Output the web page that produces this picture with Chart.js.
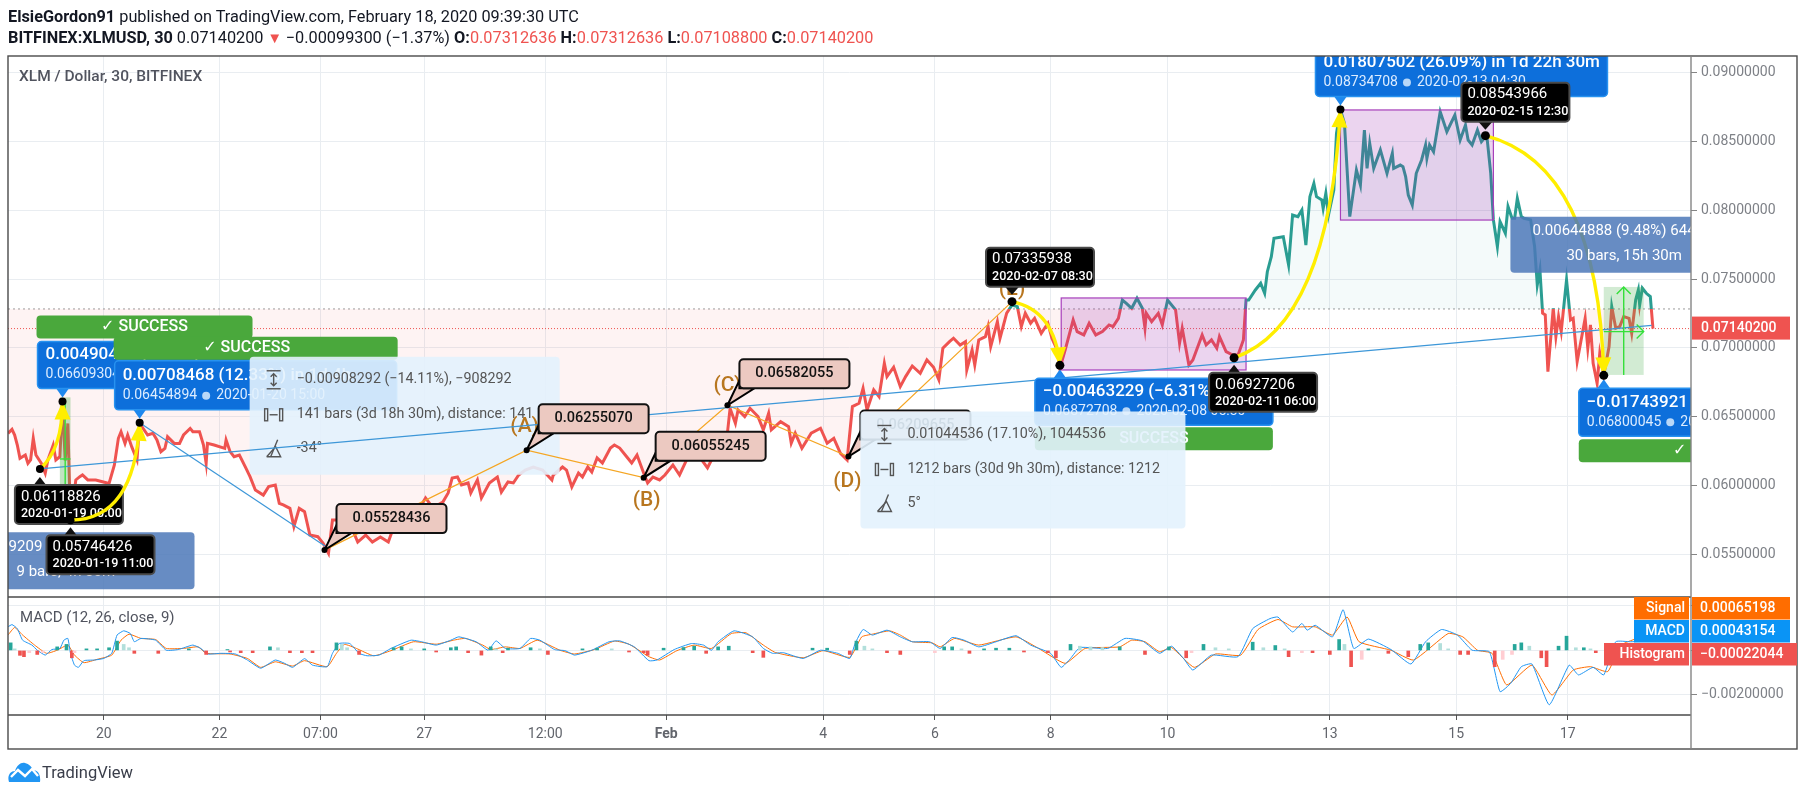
<!DOCTYPE html>
<html>
<head>
<meta charset="utf-8">
<title>XLM / Dollar</title>
<script src="https://cdn.jsdelivr.net/npm/chart.js@4/dist/chart.umd.min.js"></script>
<style>
    html, body { margin: 0; padding: 0; background: #fff; width: 1805px; height: 796px; overflow: hidden; }
    body { font-family: Roboto, "Open Sans", sans-serif; color: #131722; }
    #chart { position: absolute; left: 0; top: 0; }
    .head { position: absolute; left: 8px; font-size: 16.3px; white-space: nowrap; line-height: 20px; }
    .head b { font-weight: 700; }
    .red { color: #ef5350; }
    #logo { position: absolute; left: 8px; top: 762px; }
    #logoText { position: absolute; left: 42px; top: 763px; font-size: 16.5px; line-height: 20px; color: #3a3e4a; }
</style>
</head>
<body>
<canvas id="chart" width="1805" height="796"></canvas>
<div class="head" style="top:7px"><b>ElsieGordon91</b> published on TradingView.com, February 18, 2020 09:39:30 UTC</div>
<div class="head" style="top:28px"><b>BITFINEX:XLMUSD, 30</b> 0.07140200<span class="red" style="font-size:15px"> ▼ </span>−0.00099300 (−1.37%) <b>O:</b><span class="red">0.07312636</span> <b>H:</b><span class="red">0.07312636</span> <b>L:</b><span class="red">0.07108800</span> <b>C:</b><span class="red">0.07140200</span></div>
<svg id="logo" width="33" height="21" viewBox="0 0 33 21">
    <path d="M1 20 C-1 14 2 9 7 9 C9 3 13 0 17 1 C21 2 24 5 25 8 C30 8 33 13 32 20 Z" fill="#2196f3"/>
    <path d="M3 15 L10 8 L17 14 L24 7 L30 14" fill="none" stroke="#fff" stroke-width="2.4"/>
</svg>
<div id="logoText">TradingView</div>
<script>
// close prices (bar number, price)
const priceBars = [0,3,5,7,9,13,15,17,19,21,25,28,30,34,36,39,41,43,45,47,51,54,56,60,66,71,76,80,83,85,88,90,93,97,99,105,109,112,115,118,120,125,129,132,137,139,144,147,149,150,155,163,164,167,170,174,179,182,186,192,196,201,204,207,212,215,219,223,227,233,237,241,244,256,263,269,274,280,286,290,296,304,310,314,319,323,327,331,334,338,341,346,348,353,356,362,368,371,376,380,384,389,395,402,409,410,417,420,424,429,432,436,439,443,447,453,456,460,466,469,473,478,481,485,490,494,500,505,511,514,520,526,529,541,543,547,549,554,558,564,568,572,574,581,587,589,592,597,604,611,616,621,626,631,635,640,643,646,651,655,659,661,666,671,675,680,686,691,696,700,703,708,711,716,720,721,725,727,730,735,737,739,744,746,751,755,759,762,765,769,772,777,782,785,789,791,795,799,801,804,809,813,818,823,828,831,835,838,841,845,849,853,855,856,860,865,868,872,878,881,883,888,891,898,901,905,909,911,916,921,925,929,931,933,938,942,945,947,950,952,959,963,966,970,973,976,979,982,984,988,989,991,993,997,999,1002,1005,1009,1014,1017,1020,1022,1024,1027,1032,1037,1041,1042,1047,1049,1051,1053,1056,1059,1063,1066,1067,1069,1072,1077,1082,1088,1092,1096,1098,1101,1105,1108,1112,1115,1117,1120,1122,1126,1128,1131,1133,1135,1138,1140,1145,1148,1150,1152,1154,1156,1158,1162,1164,1166,1168,1172,1175,1177,1180,1186,1188,1190,1192,1195,1197,1200,1204,1206,1209,1212,1215,1219,1221,1224,1226,1227,1229,1232,1235,1237];
const priceValues = [.06378,.06407,.06366,.06293,.06196,.0622,.0616,.06184,.06342,.0622,.0616,.06087,.06184,.06293,.06184,.06208,.06608,.0618,.0645,.05746,.06039,.06063,.06075,.06039,.06039,.06026,.06014,.06148,.06342,.0639,.06305,.06366,.06281,.06184,.06451,.06366,.06378,.0633,.06245,.06269,.06354,.06305,.06305,.06366,.06414,.0639,.0639,.06293,.0616,.06305,.06293,.06269,.0633,.06245,.06208,.0622,.06123,.06063,.05966,.05929,.0599,.06002,.05869,.05857,.05832,.05699,.05832,.05808,.05638,.05626,.05578,.05505,.05747,.05747,.05587,.05638,.05587,.05624,.05587,.05697,.05733,.05842,.05842,.05908,.05842,.05857,.05878,.05944,.06053,.0606,.06002,.06017,.05944,.06039,.05908,.06017,.0606,.05951,.06024,.06017,.06075,.06111,.06133,.06111,.06039,.06075,.06133,.06111,.05988,.06089,.0606,.06133,.06097,.06199,.06162,.06271,.06293,.06271,.06199,.06162,.0622,.06089,.06017,.0606,.06039,.06075,.06148,.06075,.06199,.06242,.06206,.06126,.06184,.0638,.0656,.06451,.06548,.065,.0656,.065,.06403,.06524,.06403,.06463,.06427,.06306,.06379,.06269,.06379,.06415,.06306,.06342,.06233,.06185,.06573,.06597,.06706,.06548,.06694,.06645,.06888,.06791,.06859,.06718,.06791,.06868,.06815,.06912,.06859,.06767,.06997,.07045,.0707,.07021,.07045,.06839,.06985,.06876,.07058,.07082,.07155,.07009,.07191,.0707,.07252,.07312,.073,.07155,.07252,.07179,.07215,.07106,.07179,.0707,.06985,.06851,.06985,.0713,.07203,.07118,.07094,.07179,.07094,.07118,.07167,.07155,.07215,.07348,.07324,.07288,.07361,.07288,.07142,.07252,.07191,.07252,.07167,.07348,.07276,.07033,.07142,.06876,.06912,.07094,.07021,.07058,.06997,.07082,.06973,.06948,.06948,.07058,.07348,.07348,.07421,.0747,.07397,.07554,.07664,.07797,.07809,.07603,.07967,.07955,.08003,.07748,.081,.08197,.081,.08076,.08015,.08124,.07967,.08149,.08561,.08731,.08634,.07955,.08294,.08185,.08585,.08306,.08488,.08306,.0844,.0827,.08415,.08306,.0833,.08318,.08246,.08112,.08039,.0827,.08367,.08476,.08379,.08476,.08427,.08718,.08573,.08694,.08512,.08621,.08512,.08476,.08585,.085,.08549,.0827,.07931,.07737,.07919,.07834,.08028,.07943,.07943,.08088,.07955,.07943,.07931,.07737,.07458,.07567,.07252,.0724,.06827,.07288,.07082,.07228,.07118,.07494,.07203,.07215,.069,.07215,.06997,.07167,.06888,.06742,.06961,.06803,.07009,.073,.07143,.07155,.07228,.07215,.07106,.07349,.07422,.07312,.07434,.07397,.07373,.0714];

const macdBars = [0,3,7,11,18,22,28,33,39,42,45,47,50,53,57,65,72,78,82,87,92,95,100,111,119,128,139,145,150,160,171,180,190,201,208,214,223,229,240,244,249,257,264,270,279,288,303,311,322,333,339,352,361,367,374,385,393,400,411,419,426,439,452,460,471,482,488,501,514,523,529,534,546,560,568,575,583,598,611,624,633,637,643,650,661,671,680,693,701,710,719,730,743,758,769,784,792,799,806,827,840,853,866,875,884,891,905,925,936,949,955,966,973,977,983,996,1004,1012,1023,1040,1055,1066,1078,1090,1101,1114,1122,1130,1138,1146,1159,1174,1181,1192,1200,1209,1220,1237];
const macdValues = [.00106,.00116,.00098,.00046,.00024,.00001,-.00021,.00004,.00009,.00046,.00054,-.00013,-.00066,-.00076,-.00046,-.00043,-.00036,-.00013,.00069,.00088,.00076,.00039,.00054,.00046,.00001,.00004,.00024,.00009,-.00016,-.00013,-.00016,-.00043,-.0008,-.00043,-.00058,-.00076,-.00037,-.00066,-.00073,-.00013,.00031,.00031,-.00013,-.00024,-.00021,.00009,.00046,.00039,.00024,.00046,.00061,.00039,.00001,.00043,.00009,.00009,.00054,.00046,.00004,-.00001,-.00021,.00001,.00039,.00043,.00016,-.00046,-.00043,.00004,.00031,.00024,.00001,.00039,.00088,.00061,.00009,-.00013,-.0001,-.00036,.00001,-.00013,-.00036,.00031,.00094,.00069,.00091,.00061,.00039,.00039,.00009,.00058,.00046,.00016,.00039,.00066,.00024,-.00013,-.00076,-.00036,.00013,.00009,.00054,.00043,-.00013,.00019,-.00036,-.00088,-.00021,-.00028,.00098,.00143,.0015,.00083,.00121,.00091,.00113,.00061,.00183,.00009,.00051,.00004,-.00061,.00039,.00094,.00069,.00001,-.00006,-.00185,-.00148,-.00073,-.00061,-.00244,-.00066,-.0011,-.00076,-.0011,.00039,.00039,.00043];

const signalBars = [0,5,11,20,29,37,45,50,57,67,78,85,91,100,111,119,132,143,149,167,180,190,201,214,223,240,247,253,262,275,288,305,322,335,344,357,363,374,385,398,415,426,441,456,467,482,490,503,516,529,544,555,568,577,598,613,633,642,650,663,671,680,695,701,712,730,758,775,795,810,836,845,855,866,875,892,908,927,940,955,966,983,996,1007,1016,1040,1057,1083,1094,1105,1116,1127,1146,1161,1177,1190,1203,1213,1235,1237];
const signalValues = [.00069,.00103,.00069,.00024,-.00013,.00001,.00024,-.00021,-.00055,-.0004,-.00021,.00046,.00073,.00054,.00049,.00009,.00009,.00016,-.00013,-.00016,-.00036,-.00076,-.00051,-.0007,-.00046,-.00073,-.00013,.00027,.00009,-.00024,-.00001,.00039,.00028,.00046,.00054,.00024,.00004,.00016,.00009,.00046,.00001,-.00016,.00004,.00042,.00028,-.00028,-.00043,-.00001,.00024,.00009,.00076,.00079,.00024,-.00009,-.00033,-.00001,-.00031,.00061,.00073,.00088,.00069,.00039,.00034,.00016,.00054,.00024,.00061,.00009,-.00058,.00009,.00016,.00046,.00039,-.00006,.00013,-.00076,-.00016,-.00021,.00094,.00139,.00106,.00106,.00069,.0015,.00039,.00001,-.00043,.00076,.00061,.00001,-.00013,-.00155,-.00066,-.002,-.00088,-.00073,-.00095,.00024,.00073,.00065];

const histBars = [2,5,9,12,16,22,26,37,44,48,50,59,67,76,82,87,91,95,113,136,149,165,167,175,184,197,203,212,221,229,247,251,255,264,290,296,303,313,322,333,337,346,356,363,367,372,376,393,400,406,432,443,454,467,478,481,493,508,516,525,534,542,560,568,605,616,633,638,644,650,661,671,697,704,710,717,723,734,743,753,764,782,788,799,806,814,823,836,855,873,886,890,899,908,918,936,944,953,960,963,973,981,994,1001,1005,1010,1018,1023,1038,1053,1062,1068,1077,1083,1092,1098,1118,1124,1131,1133,1138,1144,1153,1157,1166,1172,1179,1185,1190,1194,1237];
const histValues = [.00034,.00007,-.00022,-.00028,-.0001,-.00018,-.0001,.00016,.00027,-.00033,-.0001,.00007,.00007,.00012,.00042,.00027,.00012,-.00013,-.00013,.00007,-.00018,.00004,-.00007,-.0001,-.0001,.00016,.00012,-.0001,-.0001,-.0001,.00034,.00027,.00012,-.00018,.00012,.00016,.00007,.00007,-.00007,.00012,.00016,-.0001,-.00021,.00016,.00007,-.0001,.0001,.00012,.00007,-.00018,.00007,.0001,.00007,-.00007,-.0001,-.00022,.0001,.00013,.00019,-.00013,.00016,.00019,-.0001,-.00031,.0001,.0001,-.00018,.00042,.00019,.00007,-.0001,-.00018,-.0001,.00016,.00016,.00007,-.00013,.00007,.0001,.0001,-.00007,-.0001,-.00033,.00027,.00019,.00016,.00013,.00016,-.00018,.00016,-.00033,-.0001,.00027,.00012,.00007,.00037,.00012,.00022,.00007,-.00028,-.0001,-.0001,-.00018,.00049,.00027,-.00073,-.0004,.00007,-.00013,-.00028,.00027,.00034,.00031,.00007,-.00018,-.00018,-.00073,-.0004,-.00018,.00027,.00034,.00019,-.00033,-.00073,.00019,.00064,.00012,.00012,.00007,-.0001,-.00022];

// axis ticks
const timeTickBars = [72,159,235,313,404,495,613,697,784,872,994,1089,1173];
const timeTickLabels = ['20','22','07:00','27','12:00','Feb','4','6','8','10','13','15','17'];
const priceTicks = [.09,.085,.08,.075,.07,.065,.06,.055];
const macdTicks = [.002,0,-.002];

// levels and drawing anchors, each [bar, price]
const lastPrice = .071402;
const baseLevel = .07283;
const lastBar = 1265.6;
const marks = {
    s1: [24, .06118826], s2: [41, .06609304], s3: [47, .05746426], s4: [99, .06454894],
    zero: [238, .05528436], A: [390, .0625507], B: [478, .06055245], C: [541, .06582055], D: [632, .06209655],
    E: [755, .07335938], F: [791, .06872708], G: [922, .06927206], H: [1002, .08734708], I: [1111, .08543966], J: [1200, .06800045]
};
const trendEnd = [1236, .07163362];
const dropEnd = [240, .05546602];
const rangeOne = [792, 931, .07363, .06839];
const rangeTwo = [1002, 1117, .08731, .0793];
const longOne = [39, 47, .0664, .05747];
const longTwo = [1200, 1230, .07443, .06803];
const curveControls = { a: [41, .0626], b: [95, .05748], c: [787, .07275], d: [993, .07166], e: [1196, .0833] };

const UI_FONT = 'Roboto, "DejaVu Sans", sans-serif';
const RED = '#ef5350';
const TEAL = '#2a9d92';

function zipPoints(xs, ys) {
    return xs.map(function(x, i) { return { x: x, y: ys[i] }; });
}

// teal over the base level, red under it
function priceLineColor(context) {
    const chart = context.chart;
    if (!chart.chartArea) return RED;
    const stop = chart.scales.y.getPixelForValue(baseLevel) / chart.height;
    const grad = chart.ctx.createLinearGradient(0, 0, 0, chart.height);
    grad.addColorStop(0, TEAL);
    grad.addColorStop(stop, TEAL);
    grad.addColorStop(stop, RED);
    grad.addColorStop(1, RED);
    return grad;
}

function histColor(context) {
    const i = context.dataIndex;
    const v = histValues[i];
    const prev = i > 0 ? histValues[i - 1] : 0;
    if (v >= 0) return v >= prev ? '#26a69a' : '#b2dfdb';
    return v <= prev ? '#ef5350' : '#ffcdd2';
}

// ---- drawing helpers ----
function box(ctx, x, y, w, h, fill, stroke, lw) {
    ctx.beginPath();
    ctx.roundRect(x, y, w, h, 4);
    if (fill) { ctx.fillStyle = fill; ctx.fill(); }
    if (stroke) { ctx.strokeStyle = stroke; ctx.lineWidth = lw || 1; ctx.stroke(); }
}

function label(ctx, text, x, y, font, color, align) {
    ctx.font = font;
    ctx.fillStyle = color;
    ctx.textAlign = align || 'left';
    ctx.textBaseline = 'middle';
    ctx.fillText(text, x, y);
}

function poly(ctx, pts, fill, stroke, lw) {
    ctx.beginPath();
    pts.forEach(function(p, i) { i ? ctx.lineTo(p[0], p[1]) : ctx.moveTo(p[0], p[1]); });
    if (fill) { ctx.closePath(); ctx.fillStyle = fill; ctx.fill(); }
    if (stroke) { ctx.strokeStyle = stroke; ctx.lineWidth = lw || 1; ctx.stroke(); }
}

function dot(ctx, p, r) {
    ctx.beginPath();
    ctx.arc(p[0], p[1], r, 0, Math.PI * 2);
    ctx.fillStyle = '#000';
    ctx.fill();
}

function blueLabel(ctx, p, up, w, h, line1, price, date) {
    const x = p[0] - 25;
    const y = up ? p[1] - 13 - h : p[1] + 13;
    const tipY = up ? y + h + 9 : y - 9;
    const edge = up ? y + h - 1 : y + 1;
    poly(ctx, [[p[0] - 7, edge], [p[0], tipY], [p[0] + 7, edge]], '#1e88ee');
    box(ctx, x, y, w, h, '#0d6fdb', '#2792f0', 1.5);
    label(ctx, line1, x + 8, y + h - 34, '500 17px ' + UI_FONT, '#fff');
    label(ctx, price, x + 8, y + h - 14, '14px ' + UI_FONT, '#dcecff');
    ctx.font = '14px ' + UI_FONT;
    const cx = x + 8 + ctx.measureText(price).width + 9;
    ctx.beginPath();
    ctx.arc(cx, y + h - 14, 4, 0, Math.PI * 2);
    ctx.fillStyle = '#b9d8f8';
    ctx.fill();
    label(ctx, date, cx + 10, y + h - 14, '14px ' + UI_FONT, '#dcecff');
}

function successBox(ctx, x, y, w, text, cx) {
    box(ctx, x, y, w, 23, '#4aa83c');
    label(ctx, text, cx, y + 11.5, '500 16px ' + UI_FONT, '#fff', 'center');
}

function blackNote(ctx, p, dx, dy, price, date) {
    const x = p[0] + dx;
    const y = p[1] + dy;
    const under = dy > 0;
    const edge = under ? y + 1 : y + 39;
    poly(ctx, [[p[0] - 7, edge], [p[0], under ? y - 8 : y + 47], [p[0] + 7, edge]], '#111');
    box(ctx, x, y, 108, 39, '#000', '#4a4a4a', 2);
    label(ctx, price, x + 6, y + 12, '15px ' + UI_FONT, '#fff');
    label(ctx, date, x + 6, y + 29, '500 12.6px ' + UI_FONT, '#fff');
}

function pinkNote(ctx, p, text) {
    const x = p[0] + 12;
    const y = p[1] - 46;
    poly(ctx, [p, [x, y + 21], [x, y + 29], [x + 15, y + 29]], '#ecc9c1', '#000', 2);
    box(ctx, x, y, 110, 29, '#ecc9c1', '#111', 2);
    label(ctx, text, x + 55, y + 14.5, '500 14.5px ' + UI_FONT, '#111', 'center');
    dot(ctx, p, 3);
}

function yellowCurve(ctx, from, ctrl, to) {
    ctx.beginPath();
    ctx.moveTo(from[0], from[1]);
    ctx.quadraticCurveTo(ctrl[0], ctrl[1], to[0], to[1]);
    ctx.strokeStyle = '#ffee00';
    ctx.lineWidth = 3.4;
    ctx.stroke();
    const ang = Math.atan2(to[1] - ctrl[1], to[0] - ctrl[0]);
    const bx = to[0] - Math.cos(ang) * 18;
    const by = to[1] - Math.sin(ang) * 18;
    const nx = -Math.sin(ang) * 8;
    const ny = Math.cos(ang) * 8;
    poly(ctx, [to, [bx + nx, by + ny], [bx - nx, by - ny]], '#ffee00');
}

function measureBox(ctx, x, y, w, h, row1, row2, row3) {
    box(ctx, x, y, w, h, 'rgba(227,242,253,0.9)');
    const ix = x + 24;
    const tx = x + 47;
    const r1 = y + 23;
    const r2 = y + 58;
    const r3 = y + 92;
    // price icon
    poly(ctx, [[ix - 7, r1 - 9], [ix + 7, r1 - 9]], null, '#555', 1.4);
    poly(ctx, [[ix - 7, r1 + 9], [ix + 7, r1 + 9]], null, '#555', 1.4);
    poly(ctx, [[ix, r1 - 6], [ix, r1 + 6]], null, '#555', 1.4);
    poly(ctx, [[ix - 3, r1 - 3], [ix, r1 - 6], [ix + 3, r1 - 3]], null, '#555', 1.4);
    poly(ctx, [[ix - 3, r1 + 3], [ix, r1 + 6], [ix + 3, r1 + 3]], null, '#555', 1.4);
    // bars icon
    ctx.strokeStyle = '#555';
    ctx.lineWidth = 1.4;
    ctx.strokeRect(ix - 9, r2 - 6, 3, 12);
    ctx.strokeRect(ix + 6, r2 - 6, 3, 12);
    poly(ctx, [[ix - 4, r2], [ix + 4, r2]], null, '#555', 1.4);
    // angle icon
    poly(ctx, [[ix - 7, r3 + 8], [ix + 7, r3 + 8], [ix + 2, r3 - 2], [ix - 7, r3 + 8]], null, '#555', 1.4);
    poly(ctx, [[ix - 3, r3 + 8], [ix + 4, r3 - 9]], null, '#555', 1.4);
    const font = '14.3px ' + UI_FONT;
    label(ctx, row1, tx, r1, font, '#555');
    label(ctx, row2, tx, r2, font, '#555');
    label(ctx, row3, tx, r3, font, '#555');
}

function rectBetween(ctx, r, at, fill, stroke) {
    const a = at([r[0], r[2]]);
    const b = at([r[1], r[3]]);
    ctx.fillStyle = fill;
    ctx.fillRect(a[0], a[1], b[0] - a[0], b[1] - a[1]);
    if (stroke) {
        ctx.strokeStyle = stroke;
        ctx.lineWidth = 1.2;
        ctx.strokeRect(a[0], a[1], b[0] - a[0], b[1] - a[1]);
    }
}

// ---- drawings on the price pane ----
const drawingsPlugin = {
    id: 'drawings',
    afterDatasetsDraw: function(chart) {
        const ctx = chart.ctx;
        const sx = chart.scales.x;
        const sy = chart.scales.y;
        const at = function(m) { return [sx.getPixelForValue(m[0]), sy.getPixelForValue(m[1])]; };
        const p = {};
        Object.keys(marks).forEach(function(k) { p[k] = at(marks[k]); });
        const ctrl = {};
        Object.keys(curveControls).forEach(function(k) { ctrl[k] = at(curveControls[k]); });

        ctx.save();
        ctx.beginPath();
        ctx.rect(sx.left, sy.top, sx.width, sy.height);
        ctx.clip();

        rectBetween(ctx, rangeOne, at, 'rgba(156,39,176,0.2)', '#a73fbb');
        rectBetween(ctx, rangeTwo, at, 'rgba(156,39,176,0.2)', '#a73fbb');
        rectBetween(ctx, longOne, at, 'rgba(76,175,80,0.35)');
        rectBetween(ctx, longTwo, at, 'rgba(76,175,80,0.25)');

        // lower left date range, cut by the pane edge
        const lx = p.s3[0] + 124;
        box(ctx, lx - 220, p.s3[1] + 12, 220, 57, 'rgba(76,120,185,0.85)');
        label(ctx, '0.00509209 (9.50%), 509209', p.s3[0] - 108, p.s3[1] + 27, '15px ' + UI_FONT, '#fff');
        label(ctx, '9 bars, 4h 30m', p.s3[0] - 54, p.s3[1] + 52, '15px ' + UI_FONT, '#fff');

        // first two labels, overlapping
        blueLabel(ctx, p.s2, true, 222, 47, '0.00490478 (8.02%) in 5h', '0.06609304', '2020-01-19 05:00');
        successBox(ctx, p.s2[0] - 26, p.s2[1] - 86, 216, '✓ SUCCESS', p.s2[0] + 82);
        successBox(ctx, p.s4[0] - 26, p.s4[1] - 86, 284, '✓ SUCCESS', p.s4[0] + 107);
        blueLabel(ctx, p.s4, true, 282, 49, '0.00708468 (12.33%) in 1d 4h', '0.06454894', '2020-01-20 15:00');
        measureBox(ctx, p.s4[0] + 110, p.s4[1] - 66, 310, 118, '−0.00908292 (−14.11%), −908292', '141 bars (3d 18h 30m), distance: 141', '-34°');

        // ABCD pattern
        poly(ctx, [p.zero, p.A, p.B, p.C, p.D, p.E], null, '#f5a623', 1.2);
        const abcd = '500 21px ' + UI_FONT;
        label(ctx, '(A)', p.A[0] - 2, p.A[1] - 23, abcd, '#b8761f', 'center');
        label(ctx, '(B)', p.B[0] + 3, p.B[1] + 23, abcd, '#b8761f', 'center');
        label(ctx, '(C)', p.C[0], p.C[1] - 20, abcd, '#b8761f', 'center');
        label(ctx, '(D)', p.D[0] - 1, p.D[1] + 25, abcd, '#b8761f', 'center');
        label(ctx, '(E)', p.E[0], p.E[1] - 12, abcd, '#b8761f', 'center');

        // trend lines
        const blue = '#3d97d8';
        poly(ctx, [p.s1, at(trendEnd)], null, blue, 1.2);
        poly(ctx, [p.s4, at(dropEnd)], null, blue, 1.2);

        // long position arrows
        const lime = '#35e03a';
        const la = at([longOne[0], longOne[3]]);
        const lb = at([longOne[1], longOne[2]]);
        const lmx = (la[0] + lb[0]) / 2;
        poly(ctx, [[lmx, la[1]], [lmx, p.s2[1]]], null, lime, 1.4);
        poly(ctx, [[la[0], p.s1[1] - 10], [lb[0], p.s1[1] - 10]], null, lime, 1.4);
        const ta = at([longTwo[0], longTwo[2]]);
        const tb = at([longTwo[1], longTwo[3]]);
        const tmx = (ta[0] + tb[0]) / 2;
        const tlast = sy.getPixelForValue(lastPrice) + 3;
        poly(ctx, [[tmx, tb[1]], [tmx, ta[1]]], null, lime, 1.4);
        poly(ctx, [[tmx - 7, ta[1] + 7], [tmx, ta[1]], [tmx + 7, ta[1] + 7]], null, lime, 1.4);
        poly(ctx, [[ta[0], tlast], [tb[0], tlast]], null, lime, 1.4);
        poly(ctx, [[tb[0] - 7, tlast - 7], [tb[0], tlast], [tb[0] - 7, tlast + 7]], null, lime, 1.4);

        // price notes and bars pattern arrows
        blackNote(ctx, p.s1, -25, 16, '0.06118826', '2020-01-19 00:00');
        blackNote(ctx, p.s3, -24, 15, '0.05746426', '2020-01-19 11:00');
        yellowCurve(ctx, p.s1, ctrl.a, p.s2);
        yellowCurve(ctx, p.s3, ctrl.b, p.s4);
        yellowCurve(ctx, p.E, ctrl.c, p.F);
        yellowCurve(ctx, p.G, ctrl.d, p.H);
        yellowCurve(ctx, p.I, ctrl.e, p.J);
        dot(ctx, p.s1, 4);
        dot(ctx, p.s2, 4);
        dot(ctx, p.s3, 4);
        dot(ctx, p.s4, 4);

        // right date range covers the curve
        const rx = p.I[0] + 25;
        box(ctx, rx, p.I[1] + 81, 240, 56, 'rgba(76,120,185,0.85)');
        label(ctx, '0.00644888 (9.48%) 644888', rx + 22, p.I[1] + 96, '15px ' + UI_FONT, '#fff');
        label(ctx, '30 bars, 15h 30m', rx + 56, p.I[1] + 121, '15px ' + UI_FONT, '#fff');

        pinkNote(ctx, p.zero, '0.05528436');
        pinkNote(ctx, p.A, '0.06255070');
        pinkNote(ctx, p.B, '0.06055245');
        pinkNote(ctx, p.C, '0.06582055');
        pinkNote(ctx, p.D, '0.06209655');

        successBox(ctx, p.F[0] - 25, p.F[1] + 62, 238, 'SUCCESS', p.F[0] + 94);
        blueLabel(ctx, p.F, false, 238, 47, '−0.00463229 (−6.31%) in 21h', '0.06872708', '2020-02-08 05:30');
        measureBox(ctx, p.D[0] + 12, p.D[1] - 45, 325, 117, '0.01044536 (17.10%), 1044536', '1212 bars (30d 9h 30m), distance: 1212', '5°');

        blueLabel(ctx, p.H, true, 292, 49, '0.01807502 (26.09%) in 1d 22h 30m', '0.08734708', '2020-02-13 04:30');
        successBox(ctx, p.J[0] - 25, p.J[1] + 64, 240, '✓', p.J[0] + 76);
        blueLabel(ctx, p.J, false, 240, 48, '−0.01743921 (−20.41%)', '0.06800045', '2020-02-17 16:30');

        blackNote(ctx, p.E, -26, -54, '0.07335938', '2020-02-07 08:30');
        blackNote(ctx, p.G, -25, 15, '0.06927206', '2020-02-11 06:00');
        blackNote(ctx, p.I, -24, -53, '0.08543966', '2020-02-15 12:30');
        dot(ctx, p.E, 4.5);
        dot(ctx, p.F, 4.5);
        dot(ctx, p.G, 4.5);
        dot(ctx, p.H, 4);
        dot(ctx, p.I, 4.5);
        dot(ctx, p.J, 4.5);
        ctx.restore();
    },
    afterDraw: function(chart) {
        const ctx = chart.ctx;
        const sx = chart.scales.x;
        const sy = chart.scales.y;
        const sm = chart.scales.macd;
        const right = chart.width - 8;

        // pane titles
        label(ctx, 'XLM / Dollar, 30, BITFINEX', sx.left + 11, sy.top + 21, '500 15.5px ' + UI_FONT, '#50535e');
        label(ctx, 'MACD (12, 26, close, 9)', sx.left + 12, sm.top + 21, '15px ' + UI_FONT, '#50535e');

        // frame
        ctx.strokeStyle = '#4a4a4a';
        ctx.lineWidth = 1.4;
        ctx.strokeRect(sx.left, sy.top, right - sx.left, sx.bottom - sy.top);
        poly(ctx, [[sx.left, sm.top], [sx.right, sm.top]], null, '#4a4a4a', 1.4);
        poly(ctx, [[sx.left, sm.bottom], [sx.right, sm.bottom]], null, '#4a4a4a', 1.4);
        poly(ctx, [[sx.right, sy.top], [sx.right, sx.bottom]], null, '#858585', 1.4);

        // axis value tags
        const tagFont = '500 14px ' + UI_FONT;
        const py = sy.getPixelForValue(lastPrice);
        ctx.fillStyle = RED;
        ctx.fillRect(sx.right + 1, py - 12, 98, 23);
        label(ctx, lastPrice.toFixed(8), sx.right + 10, py, tagFont, '#fff');

        const tags = [
            ['Signal', '0.00065198', '#ff6d00', 55, 98],
            ['MACD', '0.00043154', '#0a94f5', 55, 98],
            ['Histogram', '−0.00022044', RED, 85, 105]
        ];
        tags.forEach(function(t, i) {
            const y = sm.top + i * 23;
            ctx.fillStyle = t[2];
            ctx.fillRect(sx.right - t[3] - 2, y, t[3], 22.5);
            ctx.fillRect(sx.right + 1, y, t[4], 22.5);
            label(ctx, t[0], sx.right - 6, y + 11, tagFont, '#fff', 'right');
            label(ctx, t[1], sx.right + 9, y + 11, tagFont, '#fff');
        });
    }
};

const axisGrey = '#7e8187';
const gridColor = '#e9edf1';

function fitRightAxis(scale) {
    scale.width = 106;
    scale.paddingTop = 0;
    scale.paddingBottom = 0;
}

new Chart(document.getElementById('chart').getContext('2d'), {
    data: {
        datasets: [
            {
                type: 'line',
                data: zipPoints(priceBars, priceValues),
                yAxisID: 'y',
                borderColor: priceLineColor,
                borderWidth: 3,
                pointRadius: 0,
                tension: 0,
                fill: { target: { value: baseLevel }, above: 'rgba(38,166,154,0.05)', below: 'rgba(239,83,80,0.07)' }
            },
            {
                type: 'line',
                data: zipPoints([0, lastBar], [baseLevel, baseLevel]),
                yAxisID: 'y',
                borderColor: '#9a9a9a',
                borderWidth: 1,
                borderDash: [2, 3],
                pointRadius: 0
            },
            {
                type: 'line',
                data: zipPoints([0, lastBar], [lastPrice, lastPrice]),
                yAxisID: 'y',
                borderColor: RED,
                borderWidth: 1,
                borderDash: [1, 2],
                pointRadius: 0
            },
            {
                type: 'bar',
                data: zipPoints(histBars, histValues),
                yAxisID: 'macd',
                backgroundColor: histColor,
                barThickness: 3
            },
            {
                type: 'line',
                data: zipPoints(macdBars, macdValues),
                yAxisID: 'macd',
                borderColor: '#2196f3',
                borderWidth: 1,
                pointRadius: 0,
                tension: 0.15
            },
            {
                type: 'line',
                data: zipPoints(signalBars, signalValues),
                yAxisID: 'macd',
                borderColor: '#ff6d00',
                borderWidth: 1,
                pointRadius: 0,
                tension: 0.15
            }
        ]
    },
    options: {
        responsive: false,
        animation: false,
        layout: { padding: { left: 8, top: 56, right: 8, bottom: 47 } },
        plugins: { legend: { display: false }, tooltip: { enabled: false } },
        scales: {
            x: {
                type: 'linear',
                offset: false,
                min: 0,
                max: lastBar,
                afterBuildTicks: function(scale) {
                    scale.ticks = timeTickBars.map(function(b) { return { value: b }; });
                },
                afterFit: function(scale) {
                    scale.height = 34;
                    scale.paddingLeft = 0;
                    scale.paddingRight = 0;
                },
                grid: { color: gridColor, tickColor: '#555', tickLength: 5, offset: false },
                border: { display: false },
                ticks: {
                    autoSkip: false,
                    maxRotation: 0,
                    padding: 6,
                    color: '#62656c',
                    font: function(ctx) {
                        const bold = ctx.tick && ctx.tick.value === timeTickBars[5];
                        return { family: UI_FONT, size: 14, weight: bold ? '700' : '400' };
                    },
                    callback: function(value) {
                        return timeTickLabels[timeTickBars.indexOf(value)];
                    }
                }
            },
            y: {
                type: 'linear',
                position: 'right',
                stack: 'panes',
                stackWeight: 541,
                min: .09531 - 597 * 7.276e-5,
                max: .09531 - 56 * 7.276e-5,
                afterBuildTicks: function(scale) {
                    scale.ticks = priceTicks.map(function(v) { return { value: v }; });
                },
                afterFit: fitRightAxis,
                grid: { color: gridColor, tickColor: '#858585', tickLength: 6 },
                border: { display: false },
                ticks: {
                    padding: 4,
                    color: axisGrey,
                    font: { family: UI_FONT, size: 14 },
                    callback: function(value) { return value.toFixed(8); }
                }
            },
            macd: {
                type: 'linear',
                position: 'right',
                stack: 'panes',
                stackWeight: 118,
                min: -.0029,
                max: .0024,
                afterBuildTicks: function(scale) {
                    scale.ticks = macdTicks.map(function(v) { return { value: v }; });
                },
                afterFit: fitRightAxis,
                grid: { color: gridColor, tickColor: '#858585', tickLength: 6 },
                border: { display: false },
                ticks: {
                    padding: 4,
                    color: axisGrey,
                    font: { family: UI_FONT, size: 14 },
                    callback: function(value) { return value === 0 ? '0.00000000' : value.toFixed(8).replace('-', '−'); }
                }
            }
        }
    },
    plugins: [drawingsPlugin]
});
</script>
</body>
</html>
